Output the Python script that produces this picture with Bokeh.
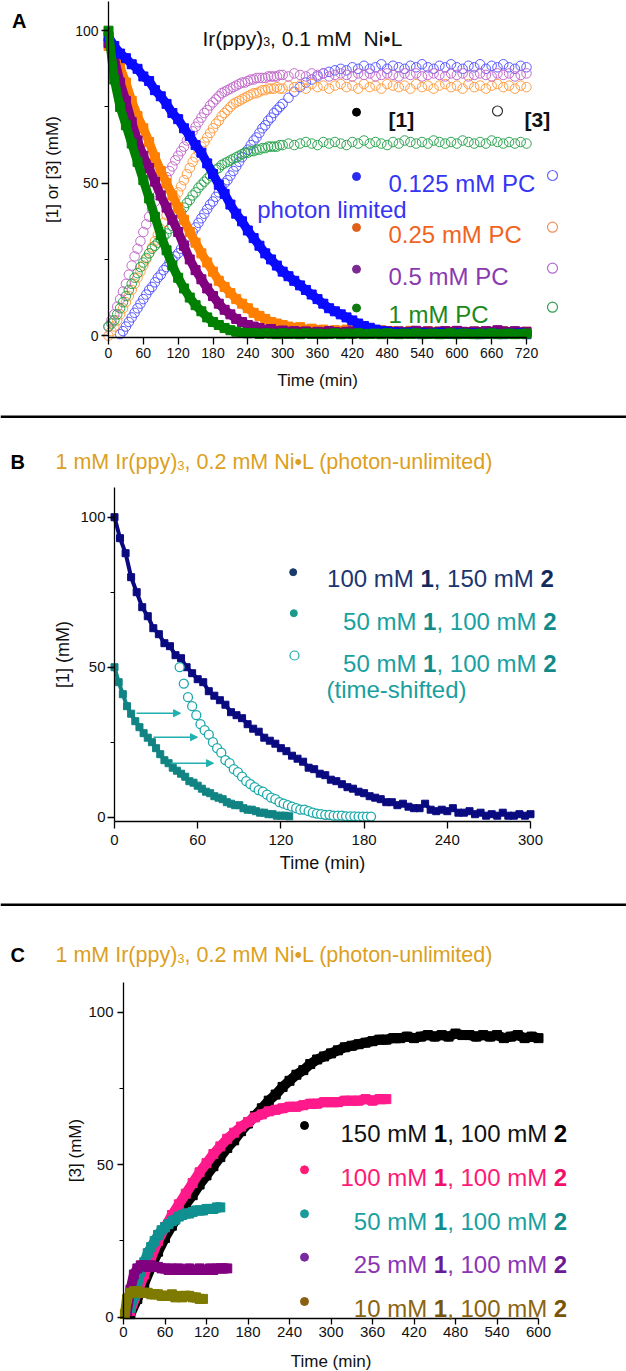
from bokeh.plotting import figure
from bokeh.models import Range1d, SingleIntervalTicker, Label, Arrow, NormalHead, Span
from bokeh.layouts import column
from bokeh.embed import file_html
from bokeh.resources import INLINE

FONT = "Liberation Sans"

# ---------------- Panel A data ----------------
time_a = list(range(0, 721, 10))
time_a_circ = list(range(0, 300, 5)) + list(range(300, 721, 10))
time_a_circ_late = list(range(20, 300, 5)) + list(range(300, 721, 10))

a_sub1_0125 = [98, 95, 92.5, 91, 89, 87.5, 85, 83.5, 80.5, 78.5,
               76, 73, 71, 68, 65.5, 62.5, 60, 56.5, 53, 49.5,
               46.5, 43, 40, 37.5, 34.5, 32, 29.5, 27, 25, 23,
               21, 19.5, 18, 16.5, 15, 13.5, 12, 10.5, 9, 8,
               7, 6, 5, 4, 3.2, 2.6, 2, 1.6, 1.3, 1.1,
               1, 0.8, 1, 0.7, 0.9, 0.6, 0.8, 1, 0.7, 0.6,
               0.9, 0.7, 0.6, 0.8, 0.5, 0.7, 0.9, 0.6, 0.5, 0.7,
               0.6, 0.8, 0.5]
a_sub1_025 = [95, 93, 88, 83, 77, 72, 68, 63.5, 58.5, 54,
              50, 46, 42, 38, 34, 30.5, 27, 24, 21, 18,
              16, 14, 12, 10.5, 9, 7.5, 6.5, 5.5, 4.5, 4,
              3.5, 3, 2.5, 2.8, 2, 2.3, 1.8, 2, 1.5, 1.8,
              1.6, 2, 1.5, 1.4, 1.7, 1.3, 1.5, 1.8, 1.2, 1.5,
              1.4, 1.2, 1.6, 1.3, 1.1, 1.5, 1.2, 1.4, 1, 1.3,
              1.5, 1.1, 1.2, 1.4, 1, 1.3, 1.1, 1.2, 1.5, 1,
              1.2, 1.1, 1.3]
a_sub1_05 = [96, 91, 83, 77, 70, 64, 59, 55, 50.5, 46,
             42, 38, 34, 29.5, 25, 21.5, 18.5, 15.5, 13, 10.5,
             8.5, 7, 5.5, 4.5, 3.5, 3, 2.5, 2, 2.2, 1.5,
             1.7, 1.3, 1.5, 1.2, 1.4, 1, 1.3, 1.1, 1.5, 1.2,
             1, 1.3, 1.4, 1.1, 1.6, 1.2, 1, 1.3, 1.5, 1.2,
             1.4, 1.1, 1.3, 1.6, 1.2, 1.4, 1, 1.3, 1.5, 1.2,
             1.6, 1.3, 1.1, 1.4, 1.2, 1.5, 1.3, 1.8, 1.4, 1.2,
             1.5, 1.1, 1.3]
a_sub1_1 = [100, 84, 75, 69, 63, 57, 51, 45, 39, 33,
            28, 23, 19, 15.5, 12.5, 10, 8, 6, 4.5, 3.5,
            2.5, 1.8, 1.3, 1, 0.8, 0.9, 0.6, 0.8, 0.7, 0.5,
            0.8, 0.6, 0.7, 0.5, 0.8, 0.6, 0.7, 0.5, 0.6, 0.8,
            0.5, 0.7, 0.6, 0.8, 0.5, 0.6, 0.7, 0.5, 0.8, 0.6,
            0.5, 0.7, 0.6, 0.8, 0.5, 0.6, 0.7, 0.5, 0.6, 0.8,
            0.5, 0.7, 0.6, 0.5, 0.7, 0.6, 0.8, 0.5, 0.6, 0.7,
            0.5, 0.6, 0.7]

a_prod3_0125 = [0.5, 1.5, 3, 4.5, 6, 7.5, 9, 10.5, 12, 13.5,
                15, 16, 17.5, 19, 20, 21.5, 22.5, 24, 25, 26,
                27, 28.5, 29.5, 31, 32.5, 34, 35.5, 37, 38.5, 40,
                41.5, 43, 44, 45.5, 47, 48.5, 50, 51, 52.5, 54,
                55.5, 57, 58.5, 60, 61, 62.5, 64, 65, 66.5, 68,
                69, 70.5, 71.5, 73, 74, 75,
                76, 78, 80, 81.5, 83, 84, 85, 86, 86.5, 87,
                87.5, 87, 88, 87.5, 88.5, 87.5, 88, 89, 87.5, 88.5,
                88, 87.5, 88.5, 88, 89, 88, 87.5, 88.5, 88, 89,
                88, 87.5, 88.5, 88, 89, 87.5, 88.5, 88, 89, 88,
                87.5, 88.5, 88]
a_prod3_025 = [0, 1.5, 3, 5, 7, 9, 11, 13, 15, 17,
               19, 21, 23, 25, 27, 29, 31, 33, 35, 37,
               39.5, 41, 43, 45, 47, 49, 51, 53, 55, 57,
               58.5, 60.5, 62, 63.5, 65, 66.5, 68, 69.5, 70.5, 72,
               73, 74, 75, 76, 76.5, 77, 77.5, 78, 78.5, 79,
               79.5, 79.5, 80, 80.5, 80.5, 81, 81, 81, 81.5, 81,
               81, 82, 81.5, 82, 81, 82.5, 81.5, 82, 81, 82,
               82.5, 81.5, 82, 81, 82.5, 81.5, 82, 81, 82.5, 82,
               81.5, 82, 81, 82.5, 81.5, 82, 81, 82, 82.5, 81.5,
               82, 81, 82.5, 81.5, 82, 81, 82, 82.5, 81.5, 82,
               81, 82, 81.5]
a_prod3_05 = [3, 5, 7, 9.5, 12, 14.5, 17, 20, 23, 26,
              28.5, 31, 34, 36.5, 39, 41.5, 44, 46, 48, 50,
              52, 54, 55.5, 57.5, 59, 60.5, 62, 64, 65.5, 67,
              68.5, 70, 71.5, 73, 74, 75.5, 76.5, 77.5, 78.5, 79.5,
              80, 80.5, 81, 81.5, 82, 82.5, 83, 83, 83.5, 84,
              84, 84.5, 84.5, 84.5, 84.5, 85, 85, 85, 85, 85.5,
              85.5, 85, 86, 85.5, 85, 86, 85.5, 86, 85, 85.5,
              86, 85.5, 85, 86, 85.5, 86, 85, 85.5, 86, 85.5,
              85, 86, 85.5, 86, 85, 85.5, 86, 85.5, 85, 86,
              85.5, 86, 85, 85.5, 86, 85.5, 85, 86, 85.5, 86,
              85, 85.5, 86]
a_prod3_1 = [3, 4, 5, 7, 9, 11, 13, 15, 17, 19,
             20.5, 22.5, 24, 25.5, 27, 28.5, 29.5, 30.5, 31.5, 32.5,
             33.5, 35, 36, 37.5, 39, 40.5, 42, 43.5, 44.5, 46,
             47, 48.5, 49.5, 50.5, 51.5, 52.5, 53.5, 54.5, 55, 56,
             56.5, 57, 57.5, 58, 58.5, 59, 59.5, 60, 60, 60.5,
             60.5, 61, 61, 61.5, 61.5, 62, 62, 62, 62, 62.5,
             62.5, 63, 62.5, 63, 63.5, 63, 62.5, 63.5, 63, 63.5,
             63, 62.5, 63.5, 63, 64, 63, 63.5, 63, 62.5, 63.5,
             63, 64, 63.5, 63, 63.5, 63, 64, 63.5, 63, 63.5,
             63, 64, 63.5, 63, 63.5, 63, 64, 63.5, 63, 63.5,
             63, 63.5, 63]

a_pc_labels = ["0.125 mM PC", "0.25 mM PC", "0.5 mM PC", "1 mM PC"]

# ---------------- Panel B data ----------------
time_b_100 = list(range(0, 301, 4))
b_sub1_100 = [100, 93, 88, 80, 75, 70, 67, 63, 61, 58,
              57, 54, 53, 50, 48, 46, 45, 42, 40.5, 39,
              37.5, 35, 34, 33, 31, 29.5, 28.5, 26.5, 25.5, 24.5,
              23, 22, 20.5, 19.5, 18.5, 16.5, 16, 14.5, 14, 12.5,
              12, 11, 10, 9.5, 8.5, 8, 7, 6.5, 6, 5,
              5, 4, 4.5, 3.5, 3, 3, 4.5, 2.5, 2, 2.5,
              2, 3, 1.5, 1.5, 2, 1, 1.5, 0.5, 1, 0.5,
              1.5, 0.5, 0.5, 1, 0.5, 1]
time_b_50 = list(range(0, 127, 3))
b_sub1_50 = [50, 45, 41, 37, 34.5, 32, 30, 28, 26.5, 25,
             23, 21, 19, 18, 16.5, 15.5, 14.5, 13.5, 12, 11.5,
             10.5, 9.5, 8.5, 8, 7, 6.5, 6, 5, 4.5, 4,
             4, 3, 2.5, 2.5, 2, 1.5, 1.5, 1, 1, 0.5,
             0.5, 0.5, 0.3]
time_b_shift = list(range(47, 186, 3))
b_sub1_50_shift = [50, 44.5, 40, 37, 34, 31, 29, 27.5, 25, 23,
                   21.5, 19, 18, 16, 15, 13.5, 12, 11, 10, 9,
                   8.5, 7.5, 6.5, 6, 5, 4.5, 4, 3.5, 3, 2.5,
                   2.5, 2, 1.5, 1.2, 1, 0.8, 0.8, 0.5, 0.5, 0.5,
                   0.3, 0.3, 0.3, 0.2, 0.2, 0.2, 0.2]

# ---------------- Panel C data ----------------
time_c_150 = list(range(10, 601, 10))
c_prod3_150 = [1, 6, 11, 16.5, 21.5, 26, 30, 33.5, 37, 40,
               43.5, 46.5, 49.5, 52.5, 55.5, 58, 61, 63.5, 66, 68.5,
               71, 73, 75.5, 77.5, 79.5, 81, 83, 84.5, 85.5, 86.5,
               87.5, 88.5, 89, 89.5, 90, 90.5, 91, 91, 91.5, 91.5,
               92, 91.5, 92, 92.5, 92, 92.5, 92, 93, 92.5, 92.5,
               92, 92.5, 92, 92.5, 91.5, 92, 92.5, 91.5, 92, 91.5]
time_c_100 = list(range(10, 381, 10))
c_prod3_100 = [2, 8, 14, 19.5, 25, 29.5, 33.5, 37, 40.5, 44,
               47.5, 50.5, 53.5, 56, 58.5, 60.5, 62.5, 64, 65.5, 66.5,
               67.5, 68, 68.5, 69, 69, 69.5, 70, 70, 70.5, 70.5,
               70.5, 71, 71, 71, 71.5, 71, 71.5, 71.5]
time_c_50 = list(range(10, 141, 5))
c_prod3_50 = [3, 7, 11, 15, 18, 21, 23, 25, 27, 28.5,
              29.5, 30.5, 31.5, 32, 33, 33.5, 34, 34, 34.5, 35,
              35, 35, 35.5, 35.5, 35.5, 36, 36]
time_c_25 = list(range(5, 151, 5))
c_prod3_25 = [2, 9, 14, 16, 17, 17, 16.5, 17, 16.5, 16.5,
              16, 16, 15.5, 16, 15.5, 16, 15.5, 15.5, 16, 15.5,
              15.5, 16, 15.5, 15.5, 16, 15.5, 16, 16, 16, 16]
time_c_10 = [2] + list(range(5, 116, 5))
c_prod3_10 = [1, 6, 8, 8.5, 8.5, 8, 8, 8, 7.5, 7.5,
              7.5, 7, 7, 7, 7.5, 6.5, 7, 6.5, 7, 7,
              6.5, 6.5, 6, 6]

c_labels_1 = ["150", "100", "50", "25", "10"]

# ---------------- helpers ----------------
PAGE_W = 626
W_REG = {' ': 278, '\u00a0': 278, '(': 333, ')': 333, ',': 278, '-': 333, '.': 278,
         'C': 722, 'I': 278, 'L': 556, 'M': 833, 'N': 722, 'P': 667, 'T': 611,
         '[': 278, ']': 278, 'd': 556, 'e': 556, 'f': 278, 'h': 556, 'i': 222,
         'l': 222, 'm': 833, 'n': 556, 'o': 556, 'p': 556, 'r': 333, 's': 500,
         't': 278, 'u': 556, 'y': 500, '\u2022': 350}
for _d in "0123456789":
    W_REG[_d] = 556
W_BOLD = dict(W_REG)
W_BOLD.update({'[': 333, ']': 333, 'A': 722, 'B': 722, 'C': 722})


def tw(s, size, bold=False):
    t = W_BOLD if bold else W_REG
    return sum(t.get(c, 556) for c in s) * size / 1000.0


class Frame:
    def __init__(self, p, l, t, r, b, xr, yr):
        self.p, self.l, self.t, self.r, self.b = p, l, t, r, b
        self.x0, self.x1 = xr
        self.y0, self.y1 = yr

    def x(self, px):
        return self.x0 + (px - self.l) / (self.r - self.l) * (self.x1 - self.x0)

    def y(self, py):
        return self.y1 - (py - self.t) / (self.b - self.t) * (self.y1 - self.y0)


def runs(fr, px, base, parts, align="left"):
    total = sum(tw(t, s, b) for t, s, b, c, dy in parts)
    x = px - total if align == "right" else px
    for t, s, b, c, dy in parts:
        fr.p.add_layout(Label(x=fr.x(x), y=fr.y(base + dy), text=t, text_font=FONT,
                              text_font_size=f"{s}px",
                              text_font_style="bold" if b else "normal",
                              text_color=c, text_baseline="alphabetic", text_align="left"))
        x += tw(t, s, b)


def dot(fr, px, py, color, size=8, hollow=False, lw=1.0):
    fr.p.scatter([fr.x(px)], [fr.y(py)], marker="circle", size=size,
                 fill_color=None if hollow else color, line_color=color, line_width=lw)


def make_fig(top, bottom, x_origin, x_per, y_origin, y_per):
    xr = ((0 - x_origin) / x_per, (PAGE_W - x_origin) / x_per)
    yr = ((y_origin - bottom) / y_per, (y_origin - top) / y_per)
    p = figure(width=PAGE_W, height=bottom - top, x_range=Range1d(*xr), y_range=Range1d(*yr),
               output_backend="svg", toolbar_location=None, title=None,
               min_border=0, min_border_left=0, min_border_right=0,
               min_border_top=0, min_border_bottom=0)
    p.outline_line_color = None
    p.xgrid.visible = False
    p.ygrid.visible = False
    p.background_fill_color = "white"
    p.border_fill_color = "white"
    return p, Frame(p, 0, top, PAGE_W, bottom, xr, yr)


def style_axes(p, xmax, ytop, xaxis_at, tick_fs, title_fs, xlabel, ylabel,
               xstand, ystand, ylab_stand, tick_out=7, xlab_stand=3):
    p.xaxis.ticker = SingleIntervalTicker(interval=60, num_minor_ticks=0)
    p.yaxis.ticker = SingleIntervalTicker(interval=50, num_minor_ticks=2)
    p.xaxis.fixed_location = xaxis_at
    p.xaxis.bounds = (0, xmax)
    p.yaxis.fixed_location = 0
    p.yaxis.bounds = (xaxis_at, ytop)
    for ax in (p.xaxis[0], p.yaxis[0]):
        ax.axis_line_color = "black"
        ax.axis_line_width = 1.3
        ax.major_tick_line_width = 1.3
        ax.minor_tick_line_width = 1.2
        ax.major_tick_in = 0
        ax.major_tick_out = tick_out
        ax.minor_tick_in = 0
        ax.minor_tick_out = 4
        ax.major_label_text_font = FONT
        ax.major_label_text_font_size = f"{tick_fs}px"
        ax.major_label_text_color = "#111111"
        ax.axis_label_text_font = FONT
        ax.axis_label_text_font_size = f"{title_fs}px"
        ax.axis_label_text_font_style = "normal"
        ax.axis_label_text_color = "#111111"
    p.xaxis.minor_tick_line_color = None
    p.xaxis.axis_label = xlabel
    p.yaxis.axis_label = ylabel
    p.xaxis.axis_label_standoff = xstand
    p.xaxis.major_label_standoff = xlab_stand
    p.yaxis.major_label_standoff = ystand
    p.yaxis.axis_label_standoff = ylab_stand


# ================= Panel A =================
pA, frA = make_fig(0, 418, 108, 418 / 720, 335.2, 3.05)
style_axes(pA, 720, 109.5, -0.6, 14, 17, "Time (min)", "[1] or [3] (mM)", 10, 3, 10)

a_sq_colors = ["#0a0aff", "#ff7f00", "#800080", "#008000"]
a_ci_colors = ["#5a5aff", "#ff9f45", "#c46ccc", "#2fa552"]
a_txt_colors = ["#3535f5", "#f0641e", "#8a3ab0", "#1a8a1a"]
a_dot_colors = ["#2a2af0", "#e0601a", "#7a2a90", "#107a10"]
a_circ_leg = ["#6a6aff", "#f09060", "#b070d0", "#30a050"]

for tt, vals, c in [(time_a_circ_late, a_prod3_0125, a_ci_colors[0]),
                    (time_a_circ, a_prod3_025, a_ci_colors[1]),
                    (time_a_circ, a_prod3_05, a_ci_colors[2]),
                    (time_a_circ, a_prod3_1, a_ci_colors[3])]:
    pA.scatter(tt, vals, marker="circle", size=9.5, fill_color=None, line_color=c, line_width=1)

for vals, c in [(a_sub1_025, a_sq_colors[1]), (a_sub1_05, a_sq_colors[2]),
                (a_sub1_0125, a_sq_colors[0]), (a_sub1_1, a_sq_colors[3])]:
    pA.line(time_a, vals, line_color=c, line_width=9)
    pA.scatter(time_a, vals, marker="square", size=9, fill_color=c, line_color=c)

runs(frA, 11.5, 20.5, [("A", 20, True, "#000000", 0)])
runs(frA, 202, 37.5, [("Ir(ppy)", 21, False, "#111111", 0),
                      ("3", 12.5, False, "#111111", 3),
                      (", 0.1 mM\u00a0\u00a0Ni\u2022L", 21, False, "#111111", 0)])
dot(frA, 356, 111.7, "#000000", 8)
runs(frA, 388, 118.5, [("[1]", 21, True, "#111111", 0)])
dot(frA, 497, 110.5, "#333333", 10, hollow=True, lw=1.2)
runs(frA, 524, 118.5, [("[3]", 21, True, "#111111", 0)])

a_rows = [(176, 183.3, 175), (227, 234, 226.7), (268.7, 275.7, 267.7), (307.5, 314, 306.7)]
for i, (dy_, base, cy) in enumerate(a_rows):
    dot(frA, 356, dy_, a_dot_colors[i], 8)
    runs(frA, 388, base, [(a_pc_labels[i], 24, False, a_txt_colors[i], 0)])
    dot(frA, 552, cy, a_circ_leg[i], 10, hollow=True, lw=1.2)
runs(frA, 256.7, 208.5, [("photon limited", 24, False, a_txt_colors[0], 0)])

pA.add_layout(Span(location=frA.y(416.5), dimension="width", line_color="black", line_width=3))

GOLD = "#dc9f1e"

# ================= Panel B =================
pB, frB = make_fig(418, 906, 114, 416 / 300, 816.7, 3.0)
style_axes(pB, 300, 109.9, -1.43, 15, 18, "Time (min)", "[1] (mM)", 4, 2, 4, xlab_stand=7)

NAVY = "#0a0a80"
TEAL = "#118383"
TEAL2 = "#1aa8a8"
pB.line(time_b_100, b_sub1_100, line_color=NAVY, line_width=4)
pB.scatter(time_b_100, b_sub1_100, marker="square", size=7, fill_color=NAVY, line_color=NAVY)
pB.line(time_b_50, b_sub1_50, line_color=TEAL, line_width=4)
pB.scatter(time_b_50, b_sub1_50, marker="square", size=7, fill_color=TEAL, line_color=TEAL)
pB.scatter(time_b_shift, b_sub1_50_shift, marker="circle", size=9, fill_color="white",
           line_color=TEAL2, line_width=1.3)

for (x1, x2, yy) in [(136, 180, 712.7), (153, 197, 736.7), (170, 213, 762.7)]:
    pB.add_layout(Arrow(end=NormalHead(size=7, fill_color="#20b0b0", line_color="#20b0b0"),
                        x_start=frB.x(x1), y_start=frB.y(yy), x_end=frB.x(x2), y_end=frB.y(yy),
                        line_color="#20b0b0", line_width=1.6))

runs(frB, 10, 461.7, [("B", 20, True, "#000000", 0)])
runs(frB, 55, 461.7, [("1 mM Ir(ppy)", 21.5, False, GOLD, 0),
                      ("3", 13, False, GOLD, 3.5),
                      (", 0.2 mM Ni\u2022L (photon-unlimited)", 21.5, False, GOLD, 0)])

dot(frB, 292.7, 571.7, "#1a3a6a", 7)
runs(frB, 553.3, 578.3, [("100 mM ", 24, False, "#1b3670", 0), ("1", 24, True, "#132a5c", 0),
                         (", 150 mM ", 24, False, "#1b3670", 0), ("2", 24, True, "#132a5c", 0)],
     align="right")
dot(frB, 293.3, 612.7, "#1a9a8a", 7)
runs(frB, 556, 620.7, [("50 mM ", 24, False, "#1aa0a0", 0), ("1", 24, True, "#118a8a", 0),
                       (", 100 mM ", 24, False, "#1aa0a0", 0), ("2", 24, True, "#118a8a", 0)],
     align="right")
dot(frB, 294, 655, "#1aa8a8", 9, hollow=True, lw=1.2)
runs(frB, 556, 663.3, [("50 mM ", 24, False, "#1aa0a0", 0), ("1", 24, True, "#118a8a", 0),
                       (", 100 mM ", 24, False, "#1aa0a0", 0), ("2", 24, True, "#118a8a", 0)],
     align="right")
runs(frB, 326, 689.3, [("(time-shifted)", 24, False, "#1aa0a0", 0)])

pB.add_layout(Span(location=frB.y(904.6), dimension="width", line_color="black", line_width=3))

# ================= Panel C =================
pC, frC = make_fig(906, 1371, 123, 415 / 600, 1316.7, 3.05)
style_axes(pC, 600, 109.7, -0.3, 15, 17, "Time (min)", "[3] (mM)", 11, 4, 0,
           tick_out=6, xlab_stand=3)

c_colors = ["#000000", "#ff1a8c", "#109090", "#800080", "#7f7a00"]
c_series = [(time_c_150, c_prod3_150), (time_c_100, c_prod3_100), (time_c_50, c_prod3_50),
            (time_c_25, c_prod3_25), (time_c_10, c_prod3_10)]
for (tt, vals), c in zip(c_series, c_colors):
    pC.line(tt, vals, line_color=c, line_width=10)
    pC.scatter(tt, vals, marker="square", size=9, fill_color=c, line_color=c)

runs(frC, 10, 954, [("C", 20, True, "#000000", 0)])
runs(frC, 55, 954, [("1 mM Ir(ppy)", 21.5, False, GOLD, 0),
                    ("3", 13, False, GOLD, 3.5),
                    (", 0.2 mM Ni\u2022L (photon-unlimited)", 21.5, False, GOLD, 0)])

c_txt = ["#111111", "#ff1a75", "#1aa0a0", "#8b35b5", "#8b6510"]
c_bold = ["#000000", "#f0106a", "#118a8a", "#6a1a95", "#7a5508"]
c_dot = ["#000000", "#ff1a75", "#1a9a9a", "#7a2aa0", "#8a6010"]
c_dot_y = [1125, 1169.3, 1213.3, 1256.7, 1301]
c_base = [1133.3, 1176.7, 1220.7, 1264.3, 1308.3]
for i in range(5):
    dot(frC, 304, c_dot_y[i], c_dot[i], 8)
    runs(frC, 566.7, c_base[i], [(c_labels_1[i] + " mM ", 24, False, c_txt[i], 0),
                                 ("1", 24, True, c_bold[i], 0),
                                 (", 100 mM ", 24, False, c_txt[i], 0),
                                 ("2", 24, True, c_bold[i], 0)], align="right")

layout = column(pA, pB, pC, spacing=0)
open("out.html", "w").write(file_html(layout, INLINE))
